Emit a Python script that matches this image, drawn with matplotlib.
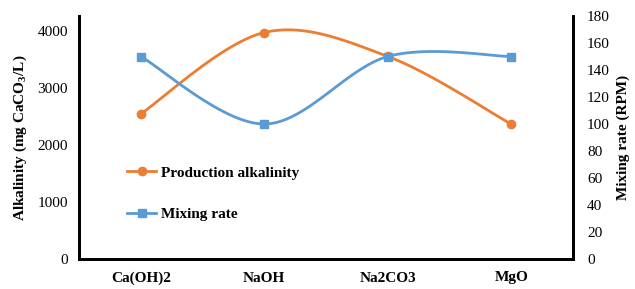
import numpy as np
import matplotlib
matplotlib.use("Agg")
from matplotlib import pyplot as plt
from matplotlib.lines import Line2D

categories = ["Ca(OH)2", "NaOH", "Na2CO3", "MgO"]
alkalinity = [2550, 3980, 3560, 2370]
mixing_rate = [150, 100, 150, 150]

ORANGE = "#ED7D31"
BLUE = "#5B9BD5"

plt.rcParams["font.family"] = ["Liberation Serif", "DejaVu Serif"]
plt.rcParams["mathtext.fontset"] = "custom"
plt.rcParams["mathtext.rm"] = "Liberation Serif:bold"
plt.rcParams["mathtext.bf"] = "Liberation Serif:bold"


def smooth(xs, ys, n=40):
    # Excel style smoothed line: Catmull-Rom through the points
    xs = np.asarray(xs, float)
    ys = np.asarray(ys, float)
    px = np.concatenate([[xs[0]], xs, [xs[-1]]])
    py = np.concatenate([[ys[0]], ys, [ys[-1]]])
    outx, outy = [], []
    t = np.linspace(0, 1, n)
    for i in range(1, len(px) - 2):
        p0, p1, p2, p3 = (np.array([px[j], py[j]]) for j in range(i - 1, i + 3))
        c1 = p1 + (p2 - p0) / 6
        c2 = p2 - (p3 - p1) / 6
        b = ((1 - t) ** 3)[:, None] * p1 + (3 * (1 - t) ** 2 * t)[:, None] * c1 \
            + (3 * (1 - t) * t ** 2)[:, None] * c2 + (t ** 3)[:, None] * p2
        outx.extend(b[:, 0])
        outy.extend(b[:, 1])
    return np.array(outx), np.array(outy)


fig = plt.figure(figsize=(6.35, 2.89), dpi=100)
ax = fig.add_axes([79 / 635, 30 / 289, 494 / 635, 243 / 289])
ax2 = ax.twinx()

x = np.arange(len(categories)) + 0.5

sx, sy = smooth(x, alkalinity)
ax.plot(sx, sy, color=ORANGE, lw=2.0, solid_capstyle="round")
ax.plot(x, alkalinity, "o", color=ORANGE, ms=6)

sx2, sy2 = smooth(x, mixing_rate)
ax2.plot(sx2, sy2, color=BLUE, lw=2.0, solid_capstyle="round")
ax2.plot(x, mixing_rate, "s", color=BLUE, ms=6)

ax.set_xlim(0, 4)
ax.set_ylim(0, 4270)
ax.set_yticks([0, 1000, 2000, 3000, 4000])
ax2.set_ylim(0, 180)
ax2.set_yticks(range(0, 181, 20))

ax.set_xticks(x)
ax.set_xticklabels(categories, fontweight="bold", fontsize=11)
ax.tick_params(axis="x", length=0, pad=9)
ax.tick_params(axis="y", length=0, labelsize=11, pad=8)
ax2.tick_params(axis="y", length=0, labelsize=11, pad=10)

for a in (ax, ax2):
    a.spines["top"].set_visible(False)
    for s in ("left", "right", "bottom"):
        a.spines[s].set_linewidth(2.0)
        a.spines[s].set_color("black")

ax.set_ylabel(r"Alkalinity (mg CaCO$_3$/L)", fontweight="bold", fontsize=11, labelpad=6)
ax2.set_ylabel("Mixing rate (RPM)", fontweight="bold", fontsize=11, labelpad=5)

handles = [
    Line2D([], [], color=ORANGE, lw=2.0, marker="o", ms=6),
    Line2D([], [], color=BLUE, lw=2.0, marker="s", ms=6),
]
ax2.legend(handles, ["Production alkalinity", "Mixing rate"],
           loc="upper left", bbox_to_anchor=(0.07, 0.44), frameon=False,
           prop={"weight": "bold", "size": 11}, labelspacing=1.85,
           handlelength=1.9, handletextpad=0.3)

fig.savefig("out.png", dpi=100)
